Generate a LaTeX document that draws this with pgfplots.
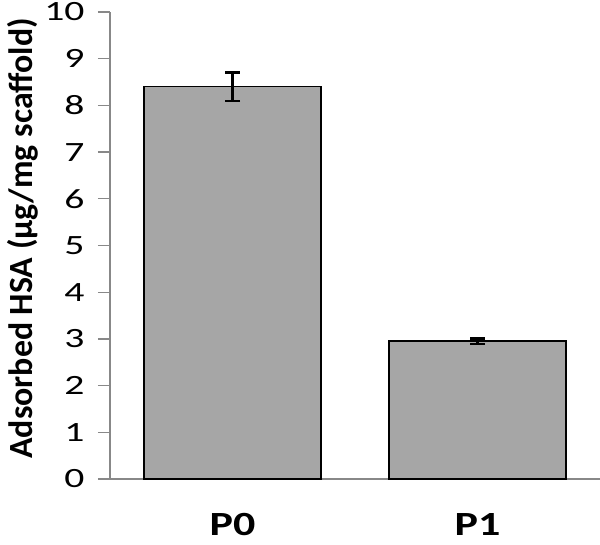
\documentclass[border=0pt]{standalone}
\usepackage{graphicx}
\usepackage{fontspec}
\setmainfont{Carlito}[FakeStretch=1.3]
\newfontfamily\labfont{Carlito}
\newcommand{\sx}[1]{\scalebox{1.42}[1]{#1}}
\usepackage{pgfplots}
\pgfplotsset{compat=1.18}
\definecolor{barfill}{HTML}{A6A6A6}
\definecolor{axgray}{HTML}{888888}
\begin{document}
\begin{tikzpicture}[x=1bp,y=1bp]
\path[use as bounding box] (-110,-66) rectangle (490,479);
\begin{axis}[
  scale only axis,
  width=490bp, height=467bp,
  at={(0,0)}, anchor=south west,
  xmin=-0.5, xmax=1.5,
  ymin=0, ymax=10,
  axis x line=bottom, axis y line=left,
  axis line style={axgray, line width=1.3bp, -},
  xtick=data, xticklabels={P0,P1},
  ytick={0,1,2,3,4,5,6,7,8,9,10},
  yticklabels={\sx{0},\sx{1},\sx{2},\sx{3},\sx{4},\sx{5},\sx{6},\sx{7},\sx{8},\sx{9},\sx{10}},
  tick align=outside,
  x tick style={draw=none},
  y tick style={axgray, line width=1.3bp},
  major tick length=12bp,
  /pgf/number format/assume math mode=true,
  yticklabel style={font=\labfont\fontsize{28}{33}\selectfont, xshift=-10bp},
  xticklabel style={font=\fontsize{34}{38}\selectfont\bfseries, yshift=-19bp},
  ylabel={\labfont\bfseries\fontsize{34}{36}\selectfont Adsorbed HSA (µg/mg scaffold)},
  ylabel style={at={(axis description cs:-0.178,0.515)}, anchor=center, rotate=0},
  bar width=177bp,
  clip=false,
]
\addplot[ybar, fill=barfill, draw=black, line width=1.5bp,
  error bars/.cd, y dir=both, y explicit,
  error bar style={black, line width=2.6bp},
  error mark options={black, line width=2.6bp, mark size=7.5bp, rotate=90}]
  coordinates {(0,8.40) +- (0,0.31) (1,2.95) +- (0,0.06)};
\end{axis}
\end{tikzpicture}
\end{document}
